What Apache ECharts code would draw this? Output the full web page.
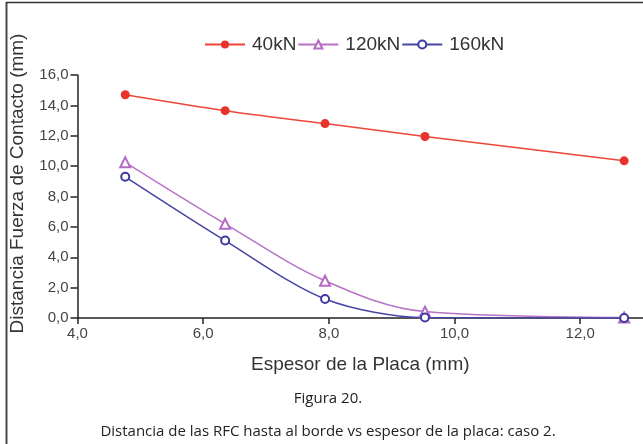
<!DOCTYPE html>
<html>
<head>
<meta charset="utf-8">
<script src="https://cdn.jsdelivr.net/npm/echarts@6/dist/echarts.min.js"></script>
<style>
  html, body { margin: 0; padding: 0; background: #fff; }
  #chart { width: 643px; height: 444px; }
</style>
</head>
<body>
<div id="chart"></div>
<script>
// espesores de placa (mm)
const espesor = [4.76, 6.35, 7.94, 9.53, 12.7];
// distancia fuerza de contacto (mm) por carga
const serie40 = [14.7, 13.65, 12.8, 11.95, 10.35];
const serie120 = [10.25, 6.2, 2.45, 0.42, 0.03];
const serie160 = [9.3, 5.1, 1.25, 0.03, 0.0];
const nombres = ['40kN', '120kN', '160kN'];
const xTicks = [4, 13, 2];   // min, max, interval
const yTicks = [0, 16, 2];
const pie = ['Figura 20.', 'Distancia de las RFC hasta al borde vs espesor de la placa: caso 2.'];

const chart = echarts.init(document.getElementById('chart'), null, { renderer: 'canvas' });

function toPairs(ys) { //combina x con y
  return espesor.map(function (x, i) { return [x, ys[i]]; });
}
function coma(v) { return v.toFixed(1).replace('.', ','); }

const fontEje = 'Liberation Sans, Arial, sans-serif';
const estiloPie = { fontFamily: 'Open Sans', fontSize: 15, fill: '#222', align: 'center', verticalAlign: 'middle' };

const option = {
  animation: false,
  backgroundColor: '#fff',
  textStyle: { fontFamily: fontEje },
  legend: {
    left: 199, top: 30,
    itemWidth: 40, itemHeight: 10, itemGap: 1,
    textStyle: { fontSize: 19, color: '#333', fontFamily: fontEje, padding: [0, 0, 0, 2] },
    data: nombres
  },
  grid: { left: 77.5, right: 0, top: 75, bottom: 126 },
  xAxis: {
    type: 'value',
    min: xTicks[0], max: xTicks[1], interval: xTicks[2],
    name: 'Espesor de la Placa (mm)',
    nameLocation: 'middle', nameGap: 37,
    nameTextStyle: { fontSize: 19, color: '#333' },
    axisLine: { lineStyle: { color: '#222', width: 1.5 } },
    axisTick: { length: 6, lineStyle: { color: '#222', width: 1.5 } },
    axisLabel: { margin: 8, fontSize: 15, color: '#444', formatter: coma, showMaxLabel: false },
    splitLine: { show: false }
  },
  yAxis: {
    type: 'value',
    min: yTicks[0], max: yTicks[1], interval: yTicks[2],
    name: 'Distancia Fuerza de Contacto (mm)',
    nameLocation: 'middle', nameGap: 50,
    nameTextStyle: { fontSize: 19, color: '#333', padding: [0, 0, 0, 26] },
    axisLine: { show: true, lineStyle: { color: '#222', width: 1.5 } },
    axisTick: { show: true, inside: false, length: 7, lineStyle: { color: '#222', width: 1.5 } },
    axisLabel: { margin: 9, fontSize: 15, color: '#444', formatter: coma },
    splitLine: { show: false }
  },
  series: [{
    name: nombres[0], type: 'line', smooth: 0.3,
    data: toPairs(serie40),
    symbol: 'circle', symbolSize: 9,
    itemStyle: { color: '#e8322b' },
    lineStyle: { color: '#ee4538', width: 1.5 }
  }, {
    name: nombres[1], type: 'line', smooth: 0.35,
    data: toPairs(serie120),
    symbol: 'emptyTriangle', symbolSize: 10,
    itemStyle: { color: '#b36bc4', borderWidth: 1.5 },
    lineStyle: { color: '#b872c8', width: 1.5 }
  }, {
    name: nombres[2], type: 'line', smooth: 0.3,
    data: toPairs(serie160),
    symbol: 'emptyCircle', symbolSize: 8,
    itemStyle: { color: '#3d3b9e', borderWidth: 1.5 },
    lineStyle: { color: '#4644a5', width: 1.5 }
  }],
  graphic: [
    { type: 'line', shape: { x1: 6.5, y1: 2, x2: 6.5, y2: 444 }, style: { stroke: '#4a4a4a', lineWidth: 2 } },
    { type: 'line', shape: { x1: 6, y1: 2.5, x2: 643, y2: 2.5 }, style: { stroke: '#333', lineWidth: 1.5 } },
    { type: 'text', x: 328, y: 399, style: Object.assign({ text: pie[0] }, estiloPie) },
    { type: 'text', x: 328, y: 432, style: Object.assign({ text: pie[1] }, estiloPie) }
  ]
};

chart.setOption(option);
</script>
</body>
</html>
